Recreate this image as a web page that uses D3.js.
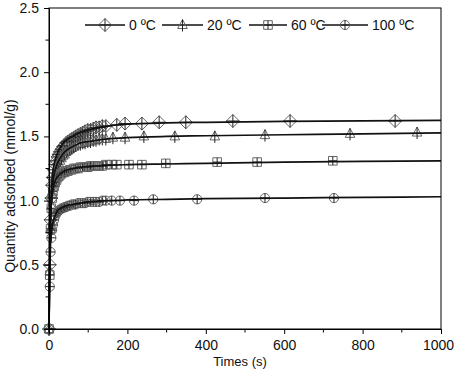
<!DOCTYPE html>
<html><head><meta charset="utf-8">
<script src="https://cdn.jsdelivr.net/npm/d3@7/dist/d3.min.js"></script>
<style>body{margin:0;background:#fff}svg{display:block;font-family:"Liberation Sans",Arial,sans-serif}</style>
</head><body><svg id="c" width="454" height="374"></svg>
<script>
// ---- data ----
const seriesNames = ["0 ºC", "20 ºC", "60 ºC", "100 ºC"];
const markerTypes = ["diamond", "triangle", "square", "circle"];
const tEarly = [0, 2, 4, 6, 8, 10, 13, 16, 19, 22, 25, 28, 32, 36, 40, 44, 48, 53, 58, 63, 68, 74, 80, 86, 92, 99, 106, 113, 120, 128, 136, 145];
const q0Early = [0.00, 0.50, 0.85, 1.02, 1.12, 1.18, 1.24, 1.28, 1.31, 1.34, 1.36, 1.38, 1.40, 1.42, 1.43, 1.45, 1.46, 1.47, 1.48, 1.49, 1.50, 1.51, 1.52, 1.53, 1.54, 1.55, 1.55, 1.56, 1.57, 1.57, 1.58, 1.58];
const q20Early = [0.00, 0.45, 0.78, 0.96, 1.05, 1.11, 1.17, 1.21, 1.24, 1.27, 1.29, 1.31, 1.33, 1.35, 1.36, 1.38, 1.39, 1.40, 1.41, 1.42, 1.43, 1.44, 1.44, 1.45, 1.45, 1.46, 1.46, 1.47, 1.47, 1.48, 1.48, 1.48];
const q60Early = [0.00, 0.42, 0.78, 0.94, 1.02, 1.07, 1.11, 1.14, 1.16, 1.18, 1.19, 1.20, 1.21, 1.22, 1.22, 1.23, 1.23, 1.24, 1.24, 1.25, 1.25, 1.25, 1.26, 1.26, 1.26, 1.26, 1.27, 1.27, 1.27, 1.27, 1.27, 1.28];
const q100Early = [0.00, 0.33, 0.60, 0.71, 0.77, 0.81, 0.85, 0.88, 0.90, 0.91, 0.92, 0.93, 0.94, 0.94, 0.95, 0.95, 0.96, 0.96, 0.97, 0.97, 0.97, 0.98, 0.98, 0.98, 0.98, 0.99, 0.99, 0.99, 0.99, 0.99, 1.00, 1.00];
const t0Late = [173, 194, 237, 281, 349, 469, 615, 883];
const q0Late = [1.59, 1.60, 1.60, 1.61, 1.61, 1.62, 1.62, 1.62];
const t20Late = [163, 194, 242, 321, 423, 551, 768, 939];
const q20Late = [1.49, 1.49, 1.50, 1.50, 1.50, 1.51, 1.52, 1.53];
const t60Late = [160, 173, 204, 237, 298, 429, 531, 724];
const q60Late = [1.28, 1.28, 1.28, 1.28, 1.29, 1.30, 1.30, 1.31];
const t100Late = [160, 181, 217, 266, 378, 551, 727];
const q100Late = [1.00, 1.00, 1.00, 1.01, 1.01, 1.02, 1.02];
const tFit = [0, 1, 2, 3, 4, 6, 8, 10, 15, 20, 30, 40, 60, 80, 100, 150, 200, 300, 400, 600, 800, 1000];
const q0Fit = [0, 0.33, 0.58, 0.77, 0.91, 1.08, 1.17, 1.23, 1.31, 1.36, 1.42, 1.46, 1.50, 1.53, 1.55, 1.58, 1.595, 1.605, 1.61, 1.617, 1.621, 1.625];
const q20Fit = [0, 0.30, 0.54, 0.72, 0.85, 1.01, 1.10, 1.15, 1.23, 1.28, 1.34, 1.38, 1.42, 1.45, 1.46, 1.48, 1.49, 1.50, 1.505, 1.513, 1.52, 1.527];
const q60Fit = [0, 0.30, 0.55, 0.72, 0.84, 0.98, 1.05, 1.09, 1.15, 1.18, 1.21, 1.23, 1.25, 1.26, 1.265, 1.275, 1.28, 1.285, 1.29, 1.30, 1.305, 1.31];
const q100Fit = [0, 0.25, 0.45, 0.58, 0.67, 0.76, 0.80, 0.83, 0.88, 0.91, 0.94, 0.955, 0.97, 0.98, 0.99, 1.00, 1.005, 1.01, 1.015, 1.02, 1.025, 1.03];
const xTicks = [0, 200, 400, 600, 800, 1000];
const yTicks = [0.0, 0.5, 1.0, 1.5, 2.0, 2.5];

// ---- build ----
const early = [q0Early, q20Early, q60Early, q100Early];
const lateT = [t0Late, t20Late, t60Late, t100Late];
const lateQ = [q0Late, q20Late, q60Late, q100Late];
const fits = [q0Fit, q20Fit, q60Fit, q100Fit];
const series = seriesNames.map((name, i) => ({
  name, marker: markerTypes[i],
  pts: tEarly.map((t, j) => [t, early[i][j]]).concat(lateT[i].map((t, j) => [t, lateQ[i][j]])),
  fit: tFit.map((t, j) => [t, fits[i][j]])
}));

const svg = d3.select("#c");
const L = 49, R = 441, T = 8, B = 329;
const x = d3.scaleLinear().domain([0, 1000]).range([L, R]);
const y = d3.scaleLinear().domain([0, 2.5]).range([B, T]);

function markerPaths(type) {
  if (type === "diamond") return ["M0,-6.5L6.5,0L0,6.5L-6.5,0Z", "M-6.5,0H6.5M0,-6.5V6.5"];
  if (type === "triangle") return ["M0,-5.5L4.8,3.5L-4.8,3.5Z", "M0,-5.5V6.5"];
  if (type === "square") return ["M-4.3,-4.3H4.3V4.3H-4.3Z", "M-4.3,0H4.3M0,-4.3V4.3"];
  return ["M4.6,0A4.6,4.6 0 1,1 -4.6,0A4.6,4.6 0 1,1 4.6,0Z", "M-4.6,0H4.6M0,-4.6V4.6"];
}
function drawMarker(g, type, cx, cy) {
  const [outline, cross] = markerPaths(type);
  const m = g.append("g").attr("transform", `translate(${cx},${cy})`);
  m.append("path").attr("d", outline).attr("fill", "none").attr("stroke", "#666").attr("stroke-width", 1);
  m.append("path").attr("d", cross).attr("fill", "none").attr("stroke", "#222").attr("stroke-width", 1);
}

const plot = svg.append("g");
const line = d3.line().x(d => x(d[0])).y(d => y(d[1])).curve(d3.curveMonotoneX);
series.forEach(s => {
  const g = plot.append("g");
  s.pts.forEach(p => drawMarker(g, s.marker, x(p[0]), y(p[1])));
});
series.forEach(s => {
  plot.append("path").datum(s.fit).attr("d", line).attr("fill", "none").attr("stroke", "#111").attr("stroke-width", 1.7);
});

// frame
svg.append("rect").attr("x", L).attr("y", T).attr("width", R - L).attr("height", B - T)
  .attr("fill", "none").attr("stroke", "#000").attr("stroke-width", 1);

// axes
const xAxis = d3.axisBottom(x).tickValues(xTicks).tickFormat(d3.format("d")).tickSize(5).tickSizeOuter(0);
const gx = svg.append("g").attr("transform", `translate(0,${B})`).call(xAxis);
gx.select(".domain").attr("stroke", "#000");
gx.selectAll("text").attr("font-size", 14).attr("fill", "#111").attr("dy", "0.95em")
  .attr("font-family", "Liberation Sans, Arial, sans-serif");
gx.selectAll(".tick").filter(d => d === 1000).select("text").attr("dx", -3);
const xMinor = d3.range(100, 1000, 200);
svg.append("g").selectAll("line").data(xMinor).join("line")
  .attr("x1", d => x(d)).attr("x2", d => x(d)).attr("y1", B).attr("y2", B + 3.5).attr("stroke", "#000");

const yAxis = d3.axisLeft(y).tickValues(yTicks).tickFormat(d3.format(".1f")).tickSize(5).tickSizeOuter(0);
const gy = svg.append("g").attr("transform", `translate(${L},0)`).call(yAxis);
gy.select(".domain").attr("stroke", "#000");
gy.selectAll("text").attr("font-size", 14).attr("fill", "#111").attr("x", -10)
  .attr("font-family", "Liberation Sans, Arial, sans-serif");
const yMinor = d3.range(0.25, 2.5, 0.5);
svg.append("g").selectAll("line").data(yMinor).join("line")
  .attr("x1", L).attr("x2", L - 3.5).attr("y1", d => y(d)).attr("y2", d => y(d)).attr("stroke", "#000");

svg.append("text").attr("x", (L + R) / 2 - 5).attr("y", 366).attr("text-anchor", "middle")
  .attr("font-size", 13).attr("fill", "#111").text("Times (s)");
svg.append("text").attr("transform", `translate(14.5,186) rotate(-90)`).attr("text-anchor", "middle")
  .attr("font-size", 14).attr("fill", "#111").text("Quantity adsorbed (mmol/g)");

// legend
const legX = [85, 162, 249, 322];
const legLen = [40, 41, 38, 46];
const legY = 25;
series.forEach((s, i) => {
  const g = svg.append("g");
  g.append("line").attr("x1", legX[i]).attr("x2", legX[i] + legLen[i]).attr("y1", legY).attr("y2", legY)
    .attr("stroke", "#111").attr("stroke-width", 1.7);
  drawMarker(g, s.marker, legX[i] + legLen[i] / 2, legY);
  g.append("text").attr("x", legX[i] + legLen[i] + 4).attr("y", legY + 5).attr("font-size", 14)
    .attr("fill", "#111").text(s.name);
});
</script></body></html>
